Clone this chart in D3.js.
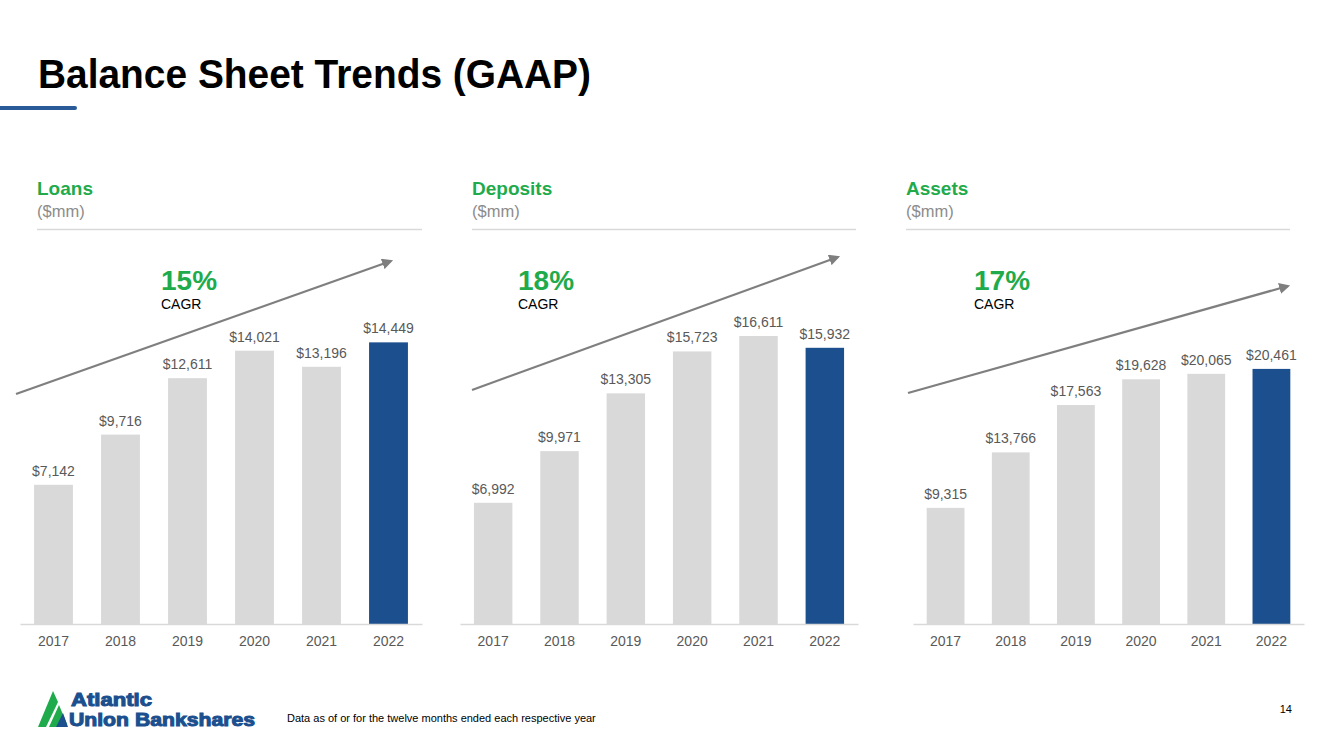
<!DOCTYPE html>
<html>
<head>
<meta charset="utf-8">
<script src="https://cdn.jsdelivr.net/npm/d3@7"></script>
<style>
  html, body { margin: 0; padding: 0; background: #ffffff; }
  svg { display: block; font-family: "Liberation Sans", Arial, sans-serif; }
</style>
</head>
<body>
<svg id="chart" width="1333" height="749"></svg>
<script>
// ---------- data ----------
const categories = ["2017", "2018", "2019", "2020", "2021", "2022"];
const loans    = [7142, 9716, 12611, 14021, 13196, 14449];
const deposits = [6992, 9971, 13305, 15723, 16611, 15932];
const assets   = [9315, 13766, 17563, 19628, 20065, 20461];
const panelTitles = ["Loans", "Deposits", "Assets"];
const panelUnits  = ["($mm)", "($mm)", "($mm)"];
const cagrValues  = ["15%", "18%", "17%"];
const axisMax     = [19700, 22150, 30800];

// ---------- layout ----------
const W = 1333, H = 749;
const baseY = 624, topY = 240;
const panels = [
  { values: loans,    x0: 20,  x1: 422,  head: 37,  divEnd: 422,  cagrX: 161, arrow: [[16, 394], [391, 261]] },
  { values: deposits, x0: 460, x1: 858,  head: 472, divEnd: 856,  cagrX: 518, arrow: [[472, 390], [838, 257]] },
  { values: assets,   x0: 913, x1: 1304, head: 906, divEnd: 1290, cagrX: 974, arrow: [[908, 393], [1288, 286]] }
];
const GREEN = "#1fab4b", BLUE = "#1b4f8e", GREYBAR = "#d9d9d9", LABEL = "#595959";
const fmt = d3.format(",");

const svg = d3.select("#chart");

// arrow marker
svg.append("defs").append("marker")
  .attr("id", "arrowhead").attr("viewBox", "0 0 10 10")
  .attr("refX", 8).attr("refY", 5)
  .attr("markerWidth", 5).attr("markerHeight", 5)
  .attr("orient", "auto")
  .append("path").attr("d", "M0,0 L10,5 L0,10 z").attr("fill", "#7f7f7f");

// ---------- title ----------
svg.append("text").attr("x", 38).attr("y", 88)
  .attr("font-size", 40).attr("font-weight", "bold").attr("fill", "#000")
  .attr("textLength", 553).attr("lengthAdjust", "spacingAndGlyphs")
  .text("Balance Sheet Trends (GAAP)");
svg.append("line").attr("x1", 0).attr("x2", 75).attr("y1", 108).attr("y2", 108)
  .attr("stroke", "#2a5a97").attr("stroke-width", 4).attr("stroke-linecap", "round");

// ---------- panels ----------
panels.forEach((p, i) => {
  const g = svg.append("g");
  const x = d3.scaleBand().domain(categories).range([p.x0, p.x1]).paddingInner(0.42).paddingOuter(0.21);
  const y = d3.scaleLinear().domain([0, axisMax[i]]).range([baseY, topY]);

  // header
  g.append("text").attr("x", p.head).attr("y", 195)
    .attr("font-size", 19).attr("font-weight", "bold").attr("fill", GREEN).text(panelTitles[i]);
  g.append("text").attr("x", p.head).attr("y", 217)
    .attr("font-size", 16.5).attr("fill", "#8c8c8c").text(panelUnits[i]);
  g.append("line").attr("x1", p.head).attr("x2", p.divEnd).attr("y1", 229.5).attr("y2", 229.5)
    .attr("stroke", "#d9d9d9").attr("stroke-width", 1.5);

  // bars
  g.selectAll("rect.bar").data(p.values).join("rect").attr("class", "bar")
    .attr("x", (d, j) => x(categories[j]))
    .attr("width", x.bandwidth())
    .attr("y", d => y(d))
    .attr("height", d => baseY - y(d))
    .attr("fill", (d, j) => j === categories.length - 1 ? BLUE : GREYBAR);

  // value labels
  g.selectAll("text.val").data(p.values).join("text").attr("class", "val")
    .attr("x", (d, j) => x(categories[j]) + x.bandwidth() / 2)
    .attr("y", d => y(d) - 9)
    .attr("text-anchor", "middle").attr("font-size", 14).attr("fill", LABEL)
    .text(d => "$" + fmt(d));

  // axis
  const axis = d3.axisBottom(x).tickSize(0).tickPadding(10);
  const ax = g.append("g").attr("transform", `translate(0,${baseY})`).call(axis);
  ax.select(".domain").attr("stroke", "#d9d9d9").attr("stroke-width", 1.5);
  ax.selectAll("text").attr("font-size", 14).attr("fill", LABEL)
    .attr("font-family", "Liberation Sans, Arial, sans-serif").attr("dy", "0.85em");

  // CAGR arrow
  g.append("line")
    .attr("x1", p.arrow[0][0]).attr("y1", p.arrow[0][1])
    .attr("x2", p.arrow[1][0]).attr("y2", p.arrow[1][1])
    .attr("stroke", "#7f7f7f").attr("stroke-width", 2.2)
    .attr("marker-end", "url(#arrowhead)");
  g.append("text").attr("x", p.cagrX).attr("y", 290)
    .attr("font-size", 28).attr("font-weight", "bold").attr("fill", GREEN).text(cagrValues[i]);
  g.append("text").attr("x", p.cagrX).attr("y", 309)
    .attr("font-size", 14).attr("fill", "#000").text("CAGR");
});

// ---------- footer ----------
const logo = svg.append("g");
logo.append("path").attr("d", "M38,727 L53,691 L58,702 L46,727 Z").attr("fill", "#1fab4b");
logo.append("path").attr("d", "M49,727 L59,705 L67,724 L67,727 Z").attr("fill", "#1fab4b");
logo.append("path").attr("d", "M56,727 L63,713 L68,727 Z").attr("fill", BLUE);
logo.append("text").attr("x", 71).attr("y", 706)
  .attr("font-size", 18).attr("font-weight", 900).attr("fill", BLUE)
  .attr("stroke", BLUE).attr("stroke-width", 1)
  .attr("textLength", 81).attr("lengthAdjust", "spacingAndGlyphs").text("Atlantic");
logo.append("text").attr("x", 69).attr("y", 726)
  .attr("font-size", 18).attr("font-weight", 900).attr("fill", BLUE)
  .attr("stroke", BLUE).attr("stroke-width", 1)
  .attr("textLength", 186).attr("lengthAdjust", "spacingAndGlyphs").text("Union Bankshares");

svg.append("text").attr("x", 287).attr("y", 722)
  .attr("font-size", 11).attr("fill", "#000")
  .text("Data as of or for the twelve months ended each respective year");
svg.append("text").attr("x", 1292).attr("y", 713).attr("text-anchor", "end")
  .attr("font-size", 11).attr("fill", "#000").text("14");
</script>
</body>
</html>
